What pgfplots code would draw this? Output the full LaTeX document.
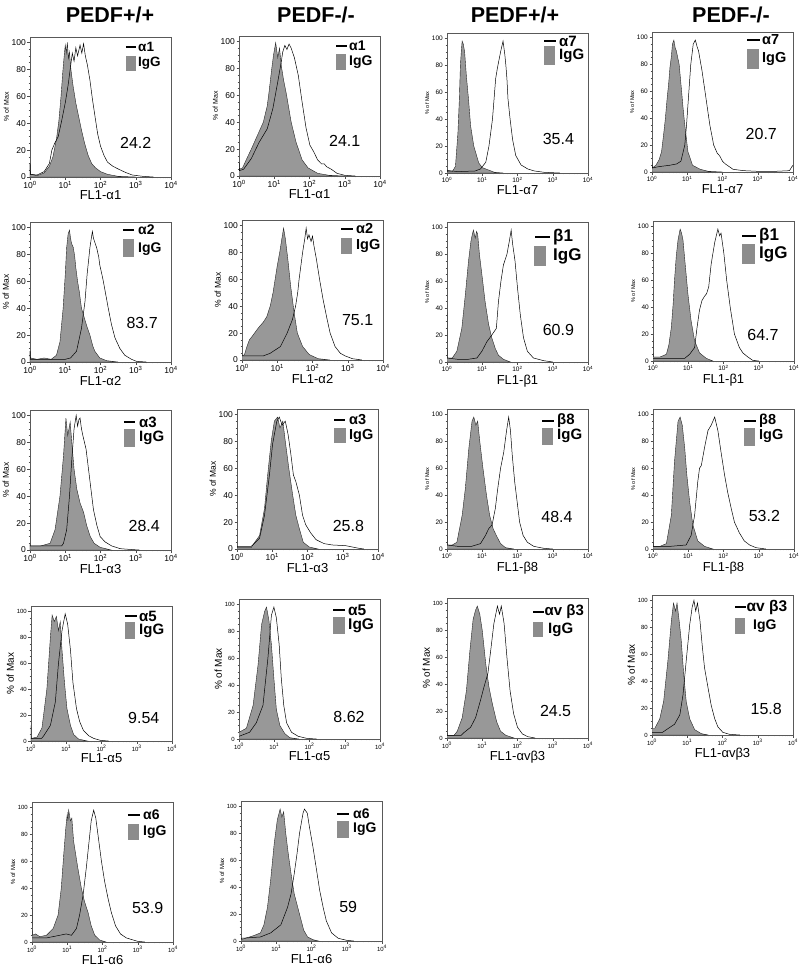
\documentclass[border=0pt]{standalone}
\usepackage{fontspec}
\setmainfont{Liberation Sans}
\usepackage{pgfplots}
\pgfplotsset{compat=1.18}
\definecolor{igg}{RGB}{152,152,152}
\definecolor{legg}{RGB}{140,140,140}
\tikzset{num/.style={font=\fontsize{16}{16}\selectfont}}
\pgfplotsset{
 fc/.style={
  scale only axis, width=141pt, height=140pt,
  xmin=0,xmax=4,ymin=0,ymax=104,
  xtick={0,1,2,3,4},
  xticklabels={10\textsuperscript{0},10\textsuperscript{1},10\textsuperscript{2},10\textsuperscript{3},10\textsuperscript{4}},
  minor xtick={0.301,0.477,0.602,0.699,0.778,0.845,0.903,0.954,1.301,1.477,1.602,1.699,1.778,1.845,1.903,1.954,2.301,2.477,2.602,2.699,2.778,2.845,2.903,2.954,3.301,3.477,3.602,3.699,3.778,3.845,3.903,3.954},
  ytick={0,20,40,60,80,100}, yticklabels={0,20,40,60,80,100},
  minor ytick={5,10,15,25,30,35,45,50,55,65,70,75,85,90,95},
  tick pos=left, tick align=outside,
  major tick length=2.5pt, minor tick length=1.3pt,
  axis line style={black!65, line width=0.8pt},
  tick style={black!70, line width=0.4pt},
  minor tick style={black!70, line width=0.3pt},
  ylabel={\% of Max},
  xlabel style={font=\fontsize{13}{13}\selectfont, inner sep=1pt},
  xticklabel style={inner sep=1.5pt},
  yticklabel style={inner sep=1.5pt},
  anchor=south west,
 },
 tl/.style={ticklabel style={font=\fontsize{#1}{#1}\selectfont}},
 yl/.style={ylabel style={font=\fontsize{#1}{#1}\selectfont, inner sep=1pt}},
 ig/.style={fill=igg, draw=black!85, line width=0.4pt},
 ab/.style={black, line width=0.5pt},
}
\newcommand{\legline}[7]{%
 \draw[black, line width=1.3pt] ([xshift=#2pt, yshift=-#4pt]#1.north east) -- ([xshift=#3pt, yshift=-#4pt]#1.north east);
 \node[anchor=west, inner sep=0pt, font=\fontsize{#6}{#6}\selectfont\bfseries] at ([xshift=#5pt, yshift=-#4pt]#1.north east) {#7};}
\newcommand{\legrect}[8]{%
 \fill[legg] ([xshift=#2pt, yshift=-#4pt]#1.north east) rectangle ([xshift=#3pt, yshift=-#5pt]#1.north east);
 \node[anchor=west, inner sep=0pt, font=\fontsize{#8}{#8}\selectfont\bfseries] at ([xshift=#7pt, yshift=-#6pt]#1.north east) {IgG};}
\begin{document}
\begin{tikzpicture}
\useasboundingbox (0,0) rectangle (800pt,-970pt);
\node[font=\fontsize{21.5}{21.5}\selectfont\bfseries] at (110pt,-15pt) {PEDF+/+};
\node[font=\fontsize{21.5}{21.5}\selectfont\bfseries] at (316pt,-15pt) {PEDF-/-};
\node[font=\fontsize{21.5}{21.5}\selectfont\bfseries] at (515pt,-15pt) {PEDF+/+};
\node[font=\fontsize{21.5}{21.5}\selectfont\bfseries] at (731pt,-15pt) {PEDF-/-};
% ---------------- Row 1
\begin{axis}[fc, name=a11, at={(30pt,-177pt)}, tl=8.5, yl=7, xlabel={FL1-α1}]
\addplot[ig] coordinates {(0,10)(0.01,2)(0.2,1)(0.4,3)(0.55,8)(0.65,15)(0.75,28)(0.82,42)(0.88,60)(0.93,78)(0.97,90)(1.0,98)(1.03,92)(1.06,100)(1.09,88)(1.12,93)(1.16,80)(1.22,68)(1.3,55)(1.38,45)(1.46,35)(1.55,25)(1.65,16)(1.75,10)(1.85,7)(2.0,4)(2.2,2)(2.5,0.5)(3,0)} \closedcycle;
\addplot[ab] coordinates {(0,10)(0.01,2)(0.2,1.5)(0.4,4)(0.55,10)(0.62,20)(0.7,25)(0.8,30)(0.9,42)(1.0,55)(1.08,68)(1.15,82)(1.2,92)(1.25,86)(1.3,96)(1.35,90)(1.42,98)(1.47,92)(1.52,99)(1.57,90)(1.63,83)(1.7,72)(1.77,58)(1.85,44)(1.92,32)(2.0,23)(2.1,16)(2.2,11)(2.35,8)(2.5,6)(2.7,3.5)(2.9,1.5)(3.2,0.5)(3.5,0)};
\node[num] at (axis cs:3.0,25) {24.2};
\end{axis}
\legline{a11}{-45}{-35}{10}{-33}{13.5}{α1}
\legrect{a11}{-45}{-35}{19}{34}{26}{-33}{13.5}

\begin{axis}[fc, name=a12, at={(239pt,-176pt)}, tl=8.5, yl=7, xlabel={FL1-α1}]
\addplot[ig] coordinates {(0,10)(0.01,5)(0.1,6)(0.24,14)(0.35,20)(0.52,30)(0.69,40)(0.8,52)(0.85,62)(0.93,80)(0.98,90)(1.04,99)(1.1,88)(1.15,95)(1.2,82)(1.26,72)(1.35,60)(1.48,40)(1.62,25)(1.79,12)(1.96,6)(2.23,2)(2.56,0.5)(3,0)} \closedcycle;
\addplot[ab] coordinates {(0,10)(0.01,4)(0.13,5)(0.35,13)(0.57,25)(0.8,35)(0.96,50)(1.1,70)(1.2,85)(1.24,92)(1.3,97)(1.36,94)(1.42,98)(1.48,95)(1.57,88)(1.68,75)(1.79,55)(1.9,36)(2.01,23)(2.12,18)(2.23,12)(2.34,9)(2.42,9)(2.48,7)(2.62,5)(2.78,2)(3.0,0.5)(3.3,0)};
\node[num] at (axis cs:3.0,26) {24.1};
\end{axis}
\legline{a12}{-44}{-33}{10}{-31}{14}{α1}
\legrect{a12}{-44}{-34}{18}{34}{26}{-31}{14}

\begin{axis}[fc, name=a13, at={(447pt,-173pt)}, tl=6.5, yl=5.5, xlabel={FL1-α7}]
\addplot[ig] coordinates {(0,3)(0.01,1)(0.15,1)(0.24,5)(0.31,30)(0.35,55)(0.38,80)(0.41,92)(0.43,98)(0.46,96)(0.5,90)(0.55,72)(0.61,55)(0.67,35)(0.76,20)(0.9,7.5)(1.0,4)(1.1,3)(1.2,2)(1.35,0.5)(1.6,0)} \closedcycle;
\addplot[ab] coordinates {(0,2)(0.3,1)(0.8,1.5)(0.95,3)(1.1,8)(1.19,20)(1.29,40)(1.35,60)(1.38,70)(1.43,78)(1.52,90)(1.59,98)(1.64,88)(1.67,80)(1.7,70)(1.73,55)(1.79,40)(1.86,25)(1.95,13)(2.1,6)(2.29,3)(2.48,1.5)(2.76,0.5)(3.2,0)};
\node[num] at (axis cs:3.16,25) {35.4};
\end{axis}
\legline{a13}{-44}{-32}{8}{-29}{15}{α7}
\legrect{a13}{-44}{-33}{13}{32}{23}{-29}{15}

\begin{axis}[fc, name=a14, at={(652pt,-172pt)}, tl=6.5, yl=5.5, xlabel={FL1-α7}]
\addplot[ig] coordinates {(0,8)(0.01,3)(0.11,5)(0.2,9)(0.27,15)(0.33,28)(0.38,40)(0.43,55)(0.47,65)(0.51,78)(0.55,86)(0.58,95)(0.62,98)(0.66,92)(0.69,90)(0.73,85)(0.77,80)(0.84,60)(0.88,48)(0.93,35)(1.02,15)(1.15,5)(1.37,2)(1.6,0.5)(2,0)} \closedcycle;
\addplot[ab] coordinates {(0,5)(0.01,3)(0.2,4)(0.5,5)(0.7,6)(0.82,8)(0.93,20)(0.98,35)(1.02,50)(1.06,65)(1.1,80)(1.17,95)(1.23,98)(1.28,93)(1.32,90)(1.42,75)(1.53,55)(1.64,35)(1.75,20)(1.85,14)(1.92,12)(2.0,8)(2.08,6)(2.3,2)(2.6,1)(3.0,0.5)(3.5,0.5)(3.9,1)(3.97,4)(4,5)};
\node[num] at (axis cs:3.1,28) {20.7};
\end{axis}
\legline{a14}{-46}{-33}{8}{-31}{14.5}{α7}
\legrect{a14}{-46}{-34}{17}{37}{27}{-31}{14.5}
% ---------------- Row 2
\begin{axis}[fc, name=a21, at={(30pt,-362pt)}, tl=8.5, yl=8.5, xlabel={FL1-α2}]
\addplot[ig] coordinates {(0,8)(0.01,3)(0.2,2)(0.4,3)(0.6,2)(0.75,5)(0.85,15)(0.94,40)(1.0,65)(1.04,85)(1.08,95)(1.12,98)(1.15,92)(1.18,88)(1.23,85)(1.27,78)(1.3,70)(1.35,60)(1.4,52)(1.46,40)(1.55,32)(1.62,26)(1.7,20)(1.78,12)(1.84,8)(1.98,3)(2.17,1)(2.5,0)} \closedcycle;
\addplot[ab] coordinates {(0,8)(0.01,2)(0.3,2)(0.7,2)(1.0,2)(1.15,3)(1.32,8)(1.46,25)(1.56,45)(1.62,65)(1.7,85)(1.74,92)(1.77,97)(1.8,92)(1.85,88)(1.89,85)(1.95,78)(1.98,72)(2.04,65)(2.08,60)(2.15,50)(2.22,40)(2.31,28)(2.41,18)(2.55,10)(2.69,5)(2.88,2)(3.02,0.5)(3.3,0)};
\node[num] at (axis cs:3.18,29) {83.7};
\end{axis}
\legline{a21}{-48}{-37}{8}{-33}{14}{α2}
\legrect{a21}{-48}{-37}{17}{35}{27}{-33}{14}

\begin{axis}[fc, name=a22, at={(242pt,-360pt)}, tl=8.5, yl=8.5, xlabel={FL1-α2}]
\addplot[ig] coordinates {(0,3)(0.07,4)(0.14,10)(0.21,15)(0.3,18)(0.41,22)(0.5,25)(0.6,28)(0.7,32)(0.8,40)(0.88,50)(0.94,60)(1.0,70)(1.07,80)(1.13,90)(1.18,98)(1.23,90)(1.3,75)(1.38,55)(1.48,35)(1.57,20)(1.72,10)(1.91,4)(2.16,1)(2.5,0)} \closedcycle;
\addplot[ab] coordinates {(0,3)(0.3,3)(0.6,3)(0.8,5)(1.09,10)(1.28,20)(1.43,30)(1.52,40)(1.58,50)(1.62,60)(1.72,80)(1.78,90)(1.82,98)(1.86,90)(1.9,93)(1.96,88)(2.0,92)(2.04,85)(2.11,75)(2.2,60)(2.3,45)(2.4,32)(2.5,20)(2.64,10)(2.79,5)(2.93,3)(3.13,1)(3.4,0)};
\node[num] at (axis cs:3.28,30) {75.1};
\end{axis}
\legline{a22}{-42}{-30}{9}{-27}{14.5}{α2}
\legrect{a22}{-42}{-31}{18}{34}{26}{-27}{14.5}

\begin{axis}[fc, name=a23, at={(447pt,-362pt)}, tl=6.5, yl=5.5, xlabel={FL1-β1}]
\addplot[ig] coordinates {(0,42)(0.01,3)(0.15,3)(0.28,8)(0.42,25)(0.52,50)(0.61,75)(0.68,90)(0.72,95)(0.75,98)(0.8,92)(0.84,97)(0.87,95)(0.92,80)(0.99,65)(1.08,45)(1.18,28)(1.27,18)(1.37,10)(1.46,5)(1.6,2)(1.8,0)} \closedcycle;
\addplot[ab] coordinates {(0,3)(0.3,2)(0.6,2)(0.85,3)(0.99,8)(1.13,15)(1.27,20)(1.4,25)(1.46,45)(1.53,60)(1.6,72)(1.7,80)(1.77,90)(1.82,98)(1.86,88)(1.93,75)(2.0,55)(2.08,35)(2.17,18)(2.28,8)(2.45,3)(2.74,1)(3.0,0)};
\node[num] at (axis cs:3.16,24) {60.9};
\end{axis}
\legline{a23}{-53}{-38}{15}{-35}{17}{β1}
\legrect{a23}{-54}{-42}{24}{44}{34}{-35}{17}

\begin{axis}[fc, name=a24, at={(653pt,-361pt)}, tl=6.5, yl=5.5, xlabel={FL1-β1}]
\addplot[ig] coordinates {(0,20)(0.01,3)(0.2,3)(0.38,5)(0.45,12)(0.52,25)(0.57,42)(0.61,60)(0.66,78)(0.71,90)(0.77,98)(0.81,95)(0.85,90)(0.92,70)(0.99,50)(1.08,30)(1.18,15)(1.32,6)(1.51,2)(1.7,0)} \closedcycle;
\addplot[ab] coordinates {(0,2)(0.5,2)(0.9,2)(1.04,5)(1.18,10)(1.25,25)(1.32,38)(1.39,45)(1.46,48)(1.52,50)(1.58,55)(1.65,72)(1.75,88)(1.84,98)(1.89,93)(1.93,95)(2.01,80)(2.09,60)(2.19,40)(2.31,20)(2.45,10)(2.55,6)(2.69,3)(2.83,0.5)(3.0,0)};
\node[num] at (axis cs:3.12,19.5) {64.7};
\end{axis}
\legline{a24}{-52}{-38}{15}{-35}{17}{β1}
\legrect{a24}{-52}{-39}{23}{43}{33}{-35}{17}
% ---------------- Row 3
\begin{axis}[fc, name=a31, at={(30pt,-550pt)}, tl=8.5, yl=8.5, xlabel={FL1-α3}]
\addplot[ig] coordinates {(0,5)(0.01,3)(0.3,3)(0.57,5)(0.71,15)(0.85,40)(0.95,70)(1.02,98)(1.07,85)(1.14,95)(1.18,82)(1.25,60)(1.33,45)(1.42,35)(1.52,28)(1.61,18)(1.71,10)(1.82,5)(1.99,2)(2.3,0)} \closedcycle;
\addplot[ab] coordinates {(0,3)(0.5,3)(0.9,3)(0.95,5)(1.04,15)(1.12,40)(1.18,65)(1.25,90)(1.31,100)(1.35,92)(1.39,97)(1.42,98)(1.46,90)(1.5,85)(1.59,75)(1.66,60)(1.73,45)(1.8,30)(1.9,18)(1.99,10)(2.13,6)(2.32,3)(2.56,1)(2.8,0.5)(3.1,0)};
\node[num] at (axis cs:3.24,17.5) {28.4};
\end{axis}
\legline{a31}{-47}{-36}{12}{-32}{15}{α3}
\legrect{a31}{-47}{-36}{19}{37}{28}{-32}{15}

\begin{axis}[fc, name=a32, at={(237pt,-549pt)}, tl=8.5, yl=8.5, xlabel={FL1-α3}]
\addplot[ig] coordinates {(0,1)(0.4,1)(0.45,3)(0.64,10)(0.78,30)(0.87,55)(0.97,80)(1.06,95)(1.15,98)(1.22,90)(1.3,95)(1.37,80)(1.47,60)(1.58,40)(1.67,25)(1.77,15)(1.88,5)(2.05,1.5)(2.3,0)} \closedcycle;
\addplot[ab] coordinates {(0,2)(0.4,2)(0.45,3)(0.64,8)(0.78,25)(0.92,55)(1.01,78)(1.13,95)(1.2,98)(1.28,92)(1.37,95)(1.45,85)(1.53,70)(1.6,55)(1.67,50)(1.77,40)(1.86,25)(1.95,18)(2.09,12)(2.24,7)(2.47,4)(2.7,3)(3.08,2.5)(3.27,1.5)(3.46,0.5)(3.6,0)};
\node[num] at (axis cs:3.16,17) {25.8};
\end{axis}
\legline{a32}{-44}{-33}{11}{-29}{14.5}{α3}
\legrect{a32}{-44}{-32}{19}{34}{27}{-29}{14.5}

\begin{axis}[fc, name=a33, at={(447pt,-549pt)}, tl=6.5, yl=5.5, xlabel={FL1-β8}]
\addplot[ig] coordinates {(0,43)(0.01,3)(0.15,3)(0.28,5)(0.43,25)(0.52,45)(0.62,75)(0.71,95)(0.76,98)(0.82,92)(0.87,95)(0.93,80)(1.02,60)(1.12,40)(1.21,25)(1.31,15)(1.4,10)(1.52,4)(1.66,1)(1.9,0)} \closedcycle;
\addplot[ab] coordinates {(0,3)(0.3,2)(0.7,2)(0.95,4)(1.09,10)(1.18,15)(1.28,18)(1.37,30)(1.44,45)(1.52,60)(1.61,72)(1.69,88)(1.75,98)(1.8,88)(1.85,70)(1.92,50)(1.99,35)(2.06,20)(2.16,10)(2.28,5)(2.46,2)(2.75,0.5)(3.0,0)};
\node[num] at (axis cs:3.12,24) {48.4};
\end{axis}
\legline{a33}{-46}{-34}{12}{-31}{15}{β8}
\legrect{a33}{-46}{-35}{19}{36}{27}{-31}{15}

\begin{axis}[fc, name=a34, at={(653pt,-549pt)}, tl=6.5, yl=5.5, xlabel={FL1-β8}]
\addplot[ig] coordinates {(0,20)(0.01,2)(0.2,2)(0.38,4)(0.52,25)(0.61,65)(0.71,95)(0.77,98)(0.83,92)(0.9,75)(0.96,55)(1.04,35)(1.13,18)(1.27,6)(1.46,2)(1.7,0)} \closedcycle;
\addplot[ab] coordinates {(0,2)(0.5,2)(0.94,3)(1.08,10)(1.18,25)(1.27,50)(1.32,60)(1.37,62)(1.46,75)(1.56,88)(1.65,92)(1.75,98)(1.84,88)(1.93,72)(2.03,55)(2.12,42)(2.22,30)(2.31,20)(2.45,12)(2.59,6)(2.74,3)(2.92,1)(3.2,0)};
\node[num] at (axis cs:3.16,24.5) {53.2};
\end{axis}
\legline{a34}{-50}{-38}{12}{-35}{14.5}{β8}
\legrect{a34}{-50}{-39}{19}{37}{27}{-35}{14.5}
% ---------------- Row 4
\begin{axis}[fc, name=a41, at={(31pt,-741pt)}, height=135pt, tl=6, yl=10, xlabel={FL1-α5}]
\addplot[ig] coordinates {(0,12)(0.01,2)(0.17,3)(0.31,10)(0.45,40)(0.55,80)(0.6,97)(0.66,92)(0.72,96)(0.78,85)(0.83,92)(0.88,70)(0.95,45)(1.02,25)(1.12,12)(1.21,5)(1.35,1.5)(1.6,0)} \closedcycle;
\addplot[ab] coordinates {(0,2)(0.3,2)(0.36,4)(0.55,12)(0.69,30)(0.78,60)(0.88,85)(0.97,98)(1.04,90)(1.12,70)(1.19,45)(1.29,25)(1.38,15)(1.49,8)(1.64,4)(1.78,2)(1.97,0.5)(2.2,0)};
\node[num] at (axis cs:3.2,18) {9.54};
\end{axis}
\legline{a41}{-47}{-35}{10}{-33}{15}{α5}
\legrect{a41}{-47}{-37}{16}{33}{25}{-33}{15}

\begin{axis}[fc, name=a42, at={(239pt,-739pt)}, tl=6, yl=10, xlabel={FL1-α5}]
\addplot[ig] coordinates {(0,5)(0.21,8)(0.4,25)(0.54,55)(0.64,85)(0.73,95)(0.78,98)(0.85,88)(0.92,70)(0.99,45)(1.06,22)(1.16,10)(1.3,4)(1.44,1)(1.7,0)} \closedcycle;
\addplot[ab] coordinates {(0,2)(0.3,5)(0.49,12)(0.68,25)(0.82,60)(0.92,92)(0.99,98)(1.06,90)(1.14,70)(1.2,45)(1.27,25)(1.35,12)(1.49,5)(1.68,2)(1.92,0.5)(2.2,0)};
\node[num] at (axis cs:3.12,16) {8.62};
\end{axis}
\legline{a42}{-47}{-35}{11}{-32}{15.5}{α5}
\legrect{a42}{-47}{-35}{18}{35}{27}{-32}{15.5}

\begin{axis}[fc, name=a43, at={(447pt,-738pt)}, tl=6, yl=10, xlabel={FL1-αvβ3}]
\addplot[ig] coordinates {(0,12)(0.01,2)(0.2,2)(0.29,5)(0.43,15)(0.55,35)(0.65,65)(0.74,88)(0.81,95)(0.86,98)(0.93,92)(1.0,80)(1.1,55)(1.19,38)(1.29,25)(1.41,12)(1.52,5)(1.67,2)(1.9,0)} \closedcycle;
\addplot[ab] coordinates {(0,2)(0.4,2)(0.48,4)(0.67,8)(0.81,15)(0.95,28)(1.05,38)(1.16,48)(1.24,65)(1.33,85)(1.43,98)(1.49,92)(1.54,98)(1.62,85)(1.7,60)(1.79,35)(1.89,18)(2.0,8)(2.14,3)(2.29,1)(2.5,0)};
\node[num] at (axis cs:3.08,20) {24.5};
\end{axis}
\legline{a43}{-55}{-44}{14}{-43.5}{15}{αv β3}
\legrect{a43}{-55}{-45}{24}{39}{32}{-40}{15}

\begin{axis}[fc, name=a44, at={(652pt,-735pt)}, tl=6, yl=10, xlabel={FL1-αvβ3}]
\addplot[ig] coordinates {(0,5)(0.08,5)(0.22,12)(0.33,25)(0.45,55)(0.55,85)(0.61,98)(0.67,92)(0.71,98)(0.77,85)(0.83,70)(0.9,45)(0.97,25)(1.07,12)(1.21,4)(1.4,1)(1.6,0)} \closedcycle;
\addplot[ab] coordinates {(0,2)(0.3,2)(0.41,4)(0.64,8)(0.79,15)(0.88,30)(0.97,55)(1.07,82)(1.14,95)(1.19,100)(1.24,92)(1.29,98)(1.36,85)(1.43,65)(1.49,50)(1.59,35)(1.68,22)(1.78,12)(1.87,6)(2.01,2)(2.2,0.5)(2.5,0)};
\node[num] at (axis cs:3.24,19) {15.8};
\end{axis}
\legline{a44}{-58}{-47}{12}{-46.5}{15.5}{αv β3}
\legrect{a44}{-58}{-48}{23}{39}{31}{-40}{14}
% ---------------- Row 5
\begin{axis}[fc, name=a51, at={(32pt,-942pt)}, tl=6, yl=6, xlabel={FL1-α6}]
\addplot[ig] coordinates {(0,28)(0.01,5)(0.1,6)(0.22,4)(0.41,5)(0.6,10)(0.74,20)(0.83,40)(0.9,65)(0.96,85)(1.0,95)(1.02,90)(1.04,98)(1.09,90)(1.13,92)(1.18,75)(1.24,65)(1.3,55)(1.4,40)(1.49,30)(1.59,22)(1.68,12)(1.78,5)(1.92,1.5)(2.1,0)} \closedcycle;
\addplot[ab] coordinates {(0,3)(0.1,3)(0.4,3)(0.6,4)(0.97,6)(1.12,5)(1.26,10)(1.35,20)(1.45,35)(1.54,55)(1.62,75)(1.68,90)(1.75,98)(1.81,92)(1.87,80)(1.97,60)(2.06,45)(2.16,32)(2.25,22)(2.37,12)(2.51,6)(2.68,3)(2.87,1.5)(3.0,0.5)(3.2,0)};
\node[num] at (axis cs:3.28,25) {53.9};
\end{axis}
\legline{a51}{-45}{-33}{13}{-30}{14}{α6}
\legrect{a51}{-45}{-34}{22}{38}{30}{-30}{14}

\begin{axis}[fc, name=a52, at={(241pt,-941pt)}, tl=6, yl=6, xlabel={FL1-α6}]
\addplot[ig] coordinates {(0,1)(0.36,4)(0.55,6)(0.65,12)(0.75,25)(0.84,45)(0.94,72)(1.03,90)(1.11,98)(1.16,92)(1.21,96)(1.27,80)(1.34,65)(1.42,50)(1.51,35)(1.61,25)(1.68,18)(1.78,8)(1.89,3)(2.04,1)(2.2,0)} \closedcycle;
\addplot[ab] coordinates {(0,2)(0.55,3)(0.84,6)(1.13,12)(1.32,25)(1.42,35)(1.51,50)(1.59,65)(1.66,80)(1.76,95)(1.8,98)(1.88,95)(1.94,85)(2.04,70)(2.13,55)(2.23,38)(2.33,25)(2.42,15)(2.57,6)(2.76,2)(3.0,0.5)(3.2,0)};
\node[num] at (axis cs:3.04,25) {59};
\end{axis}
\legline{a52}{-45}{-33}{13}{-29}{14}{α6}
\legrect{a52}{-45}{-33}{20}{37}{28}{-29}{14}
\end{tikzpicture}
\end{document}
